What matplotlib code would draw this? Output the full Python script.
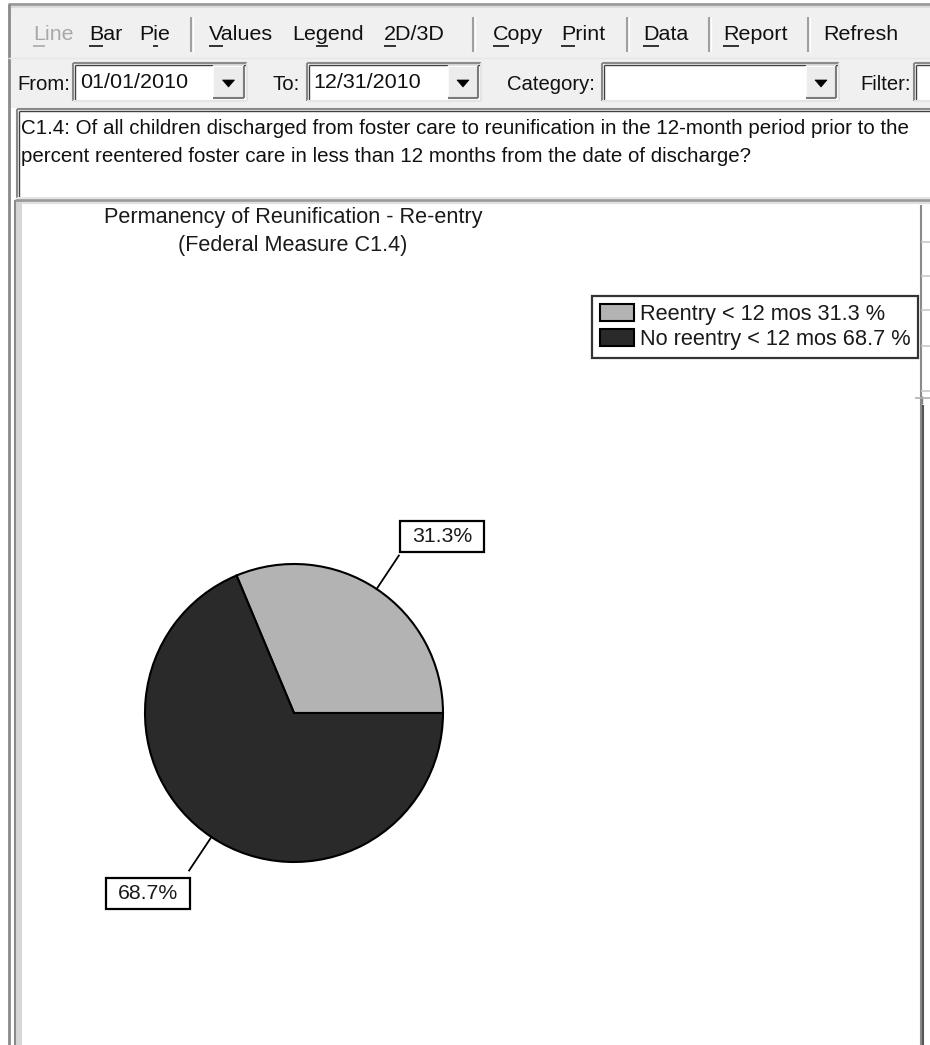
import numpy as np
import matplotlib
matplotlib.use("Agg")
import matplotlib.pyplot as plt
from matplotlib.patches import Rectangle, Polygon
from matplotlib.font_manager import FontProperties

# ---------------- data ----------------
categories = ["Reentry < 12 mos", "No reentry < 12 mos"]
percentages = [31.3, 68.7]
slice_colors = ["#b3b3b3", "#2a2a2a"]
chart_title = ["Permanency of Reunification - Re-entry", "(Federal Measure C1.4)"]
question_lines = [
    "C1.4: Of all children discharged from foster care to reunification in the 12-month period prior to the",
    "percent reentered foster care in less than 12 months from the date of discharge?",
]
toolbar_items = ["Line", "Bar", "Pie", "Values", "Legend", "2D/3D", "Copy", "Print", "Data", "Report", "Refresh"]
toolbar_underline = [0, 0, 1, 0, 2, 0, 0, 0, 0, 0, None]
filter_labels = ["From:", "To:", "Category:", "Filter:"]
from_date = "01/01/2010"
to_date = "12/31/2010"

# ---------------- layout ----------------
W, H = 930, 1045
fig = plt.figure(figsize=(W / 100, H / 100), dpi=100)
fig.patch.set_facecolor("white")
ax = fig.add_axes([0, 0, 1, 1])
renderer = fig.canvas.get_renderer()
FAM = ["Liberation Sans", "DejaVu Sans"]


def Y(y):
    return H - y


def text_w(s, size, family=FAM):
    fp = FontProperties(family=family, size=size)
    w, h, d = renderer.get_text_width_height_descent(s, fp, ismath=False)
    return w


def fit(s, target, family=FAM, base=12.0):
    return base * target / text_w(s, base, family)


def rect(x0, y0, x1, y1, fc="none", ec="none", lw=1.0, z=1):
    ax.add_patch(Rectangle((x0, Y(y1)), x1 - x0, y1 - y0, facecolor=fc,
                           edgecolor=ec, linewidth=lw, zorder=z))


def hline(x0, x1, y, c, lw=1.0, z=2):
    ax.plot([x0, x1], [Y(y), Y(y)], color=c, lw=lw, zorder=z, solid_capstyle="butt")


def vline(x, y0, y1, c, lw=1.0, z=2):
    ax.plot([x, x], [Y(y0), Y(y1)], color=c, lw=lw, zorder=z, solid_capstyle="butt")


def sunken(x0, y0, x1, y1):
    rect(x0, y0, x1, y1, fc="white", z=2)
    hline(x0, x1, y0, "#8a8a8a", 1.5, 3)
    vline(x0, y0, y1, "#8a8a8a", 1.5, 3)
    hline(x0 + 1.5, x1, y0 + 1.5, "#404040", 1.0, 3)
    vline(x0 + 1.5, y0 + 1.5, y1, "#404040", 1.0, 3)
    hline(x0, x1, y1, "#e4e4e4", 1.5, 3)
    vline(x1, y0, y1, "#e4e4e4", 1.5, 3)


def button(x0, y0, x1, y1):
    rect(x0, y0, x1, y1, fc="#ececec", z=4)
    hline(x0, x1, y0, "white", 1.2, 5)
    vline(x0, y0, y1, "white", 1.2, 5)
    hline(x0, x1, y1, "#7a7a7a", 1.5, 5)
    vline(x1, y0, y1, "#7a7a7a", 1.5, 5)
    cx, cy = (x0 + x1) / 2, (y0 + y1) / 2 + 1
    ax.add_patch(Polygon([(cx - 6, Y(cy - 3)), (cx + 6, Y(cy - 3)), (cx, Y(cy + 4))],
                         closed=True, facecolor="black", edgecolor="black", lw=0.5, zorder=6))


# window chrome
rect(8, 4, W + 5, 108, fc="#f0f0f0", z=0)
hline(8, W, 4, "#9a9a9a", 2)
hline(8, W, 7, "#dcdcdc", 1.5)
vline(9, 4, H, "#8a8a8a", 2)

# toolbar row 1
tb_size = fit("Refresh", 75)
tb_x = [33, 89, 139, 209, 292, 384, 493, 561, 643, 723, 823]
for s, x, ul in zip(toolbar_items, tb_x, toolbar_underline):
    col = "#a8a8a8" if s == "Line" else "#111111"
    ax.text(x, Y(34), s, fontsize=tb_size, family=FAM, color=col, ha="left", va="center", zorder=5)
    if ul is not None:
        ux = x + text_w(s[:ul], tb_size)
        uw = text_w(s[ul], tb_size)
        hline(ux, ux + uw, 46, col, 1.2, 5)
for sx in [191, 473, 627, 709, 808]:
    vline(sx, 17, 52, "#a0a0a0", 1.5)
    vline(sx + 1.5, 17, 52, "white", 1.0)

# toolbar row 2
hline(8, W, 58, "#e6e6e6", 1.0)
lab_x = [17, 272, 507, 860]
row2_size = fit("Category:", 88)
for s, x in zip(filter_labels, lab_x):
    ax.text(x, Y(84), s, fontsize=row2_size, family=FAM, color="#111111",
            ha="left", va="center", zorder=5)
sunken(73, 63, 247, 101)
button(213, 66, 244, 98)
ax.text(80, Y(82), from_date, fontsize=tb_size, family=FAM, color="#111111", ha="left", va="center", zorder=5)
sunken(307, 63, 481, 101)
button(448, 66, 478, 98)
ax.text(313, Y(82), to_date, fontsize=tb_size, family=FAM, color="#111111", ha="left", va="center", zorder=5)
sunken(602, 63, 839, 101)
button(806, 66, 836, 98)
sunken(914, 63, W + 10, 101)

# question text box
sunken(17, 109, W + 10, 198)
q_size = fit(question_lines[1], 732)
for i, line in enumerate(question_lines):
    t = ax.text(21, Y(128 + 28 * i), line, fontsize=q_size, family=FAM, color="#111111",
                ha="left", va="center", zorder=5)
    t.set_clip_on(True)

# chart panel frame
rect(15, 200, W + 5, H + 5, fc="white", z=0)
rect(15, 201, 22, H + 5, fc="#d6d6d6", z=1)
vline(15, 200, H, "#8a8a8a", 1.5)
hline(15, W, 200, "#9a9a9a", 2)
hline(22, W, 203, "#e0e0e0", 1.5)
vline(921, 205, H, "#8a8a8a", 1.5)
for hy in [242, 276, 310, 346, 391]:
    hline(921, W, hy, "#c8c8c8", 1.2)
vline(922, 396, 404, "#808080", 1.0)
hline(915, W, 398, "#b0b0b0", 1.2)
vline(923, 405, H, "#555555", 1.5)

# chart title
t_size = fit(chart_title[0], 380)
for i, line in enumerate(chart_title):
    ax.text(293, Y(218 + 27 * i), line, fontsize=t_size, family=FAM, color="#1a1a1a",
            ha="center", va="center", zorder=5)

# pie
cx, cy, R = 294, Y(713), 149
wedges, _ = ax.pie(percentages, colors=slice_colors, startangle=0, counterclock=True,
                   center=(cx, cy), radius=R, frame=True,
                   wedgeprops=dict(edgecolor="black", linewidth=1.5))

# pie labels with leader lines
lab_size = fit("31.3%", 60)
for w, pct in zip(wedges, percentages):
    th = np.deg2rad((w.theta1 + w.theta2) / 2)
    c, s = np.cos(th), np.sin(th)
    x_in, y_in = cx + R * c, cy + R * s
    x_out, y_out = cx + 1.27 * R * c, cy + 1.27 * R * s
    ax.plot([x_in, x_out], [y_in, y_out], color="black", lw=1.3, zorder=6)
    lbl = f"{pct:.1f}%"
    bw, bh = text_w(lbl, lab_size) + 24, 31
    if c >= 0:
        bx0, by0 = x_out + 1, y_out + 3
    else:
        bx0, by0 = x_out + 1 - bw, y_out - 7 - bh
    ax.add_patch(Rectangle((bx0, by0), bw, bh, facecolor="white", edgecolor="black",
                           linewidth=1.6, zorder=7))
    ax.text(bx0 + bw / 2, by0 + bh / 2, lbl, fontsize=lab_size, family=FAM, color="#1a1a1a",
            ha="center", va="center", zorder=8)

# legend
leg_labels = [f"{cat} {p:.1f} %" for cat, p in zip(categories, percentages)]
leg_size = fit(leg_labels[1], 271)
fs_px = leg_size * 100 / 72
leg = ax.legend(wedges, leg_labels, loc="upper left", bbox_to_anchor=(592 / W, 1 - 296 / H),
                bbox_transform=ax.transAxes, prop=FontProperties(family=FAM, size=leg_size),
                frameon=True, fancybox=False, shadow=False, borderaxespad=0,
                borderpad=0.35, labelspacing=0.2, handlelength=34 / fs_px,
                handleheight=18 / fs_px, handletextpad=6 / fs_px)
leg.get_frame().set_edgecolor("black")
leg.get_frame().set_linewidth(1.6)
leg.set_zorder(10)
for t in leg.get_texts():
    t.set_color("#1a1a1a")

ax.set_xlim(0, W)
ax.set_ylim(0, H)
ax.set_aspect("auto")
ax.axis("off")

fig.savefig("out.png", dpi=100, facecolor="white")
